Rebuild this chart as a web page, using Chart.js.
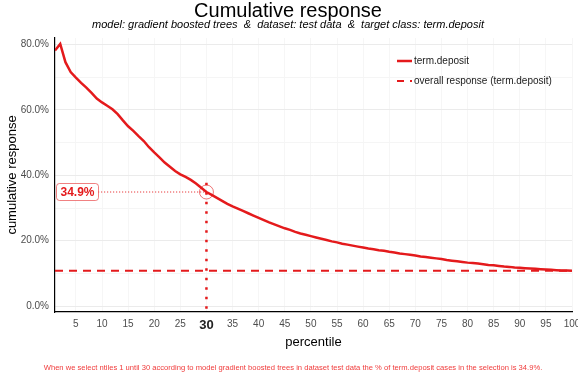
<!DOCTYPE html>
<html>
<head>
<meta charset="utf-8">
<title>Cumulative response</title>
<script src="https://cdn.jsdelivr.net/npm/chart.js@4.4.0/dist/chart.umd.min.js"></script>
<style>
  html, body { margin: 0; padding: 0; background: #fff; }
  #wrap { width: 578px; height: 384px; position: relative; }
</style>
</head>
<body>
<div id="wrap"><canvas id="chart"></canvas></div>
<script>
// percentiles (ntiles) 1..100
const percentiles = Array.from({ length: 100 }, (_, i) => i + 1);

// cumulative response (%), one value per percentile
const cumResponse = [
  78.2, 80.2, 74.6, 71.6, 69.9, 68.3, 66.8, 65.2, 63.5, 62.3,
  61.3, 60.2, 58.7, 56.8, 55.0, 53.6, 52.0, 50.5, 48.6, 47.0,
  45.5, 43.9, 42.6, 41.3, 40.3, 39.5, 38.6, 37.5, 36.2, 34.9,
  34.0, 33.1, 32.2, 31.3, 30.5, 29.8, 29.1, 28.4, 27.7, 27.0,
  26.3, 25.6, 25.0, 24.4, 23.8, 23.3, 22.7, 22.2, 21.8, 21.4,
  21.0, 20.6, 20.2, 19.8, 19.5, 19.1, 18.8, 18.5, 18.2, 17.9,
  17.6, 17.4, 17.1, 16.9, 16.6, 16.4, 16.1, 15.9, 15.7, 15.5,
  15.2, 15.0, 14.8, 14.6, 14.4, 14.1, 13.9, 13.7, 13.5, 13.3,
  13.2, 13.0, 12.8, 12.6, 12.5, 12.3, 12.1, 12.0, 11.8, 11.7,
  11.6, 11.5, 11.4, 11.3, 11.2, 11.1, 11.0, 10.9, 10.9, 10.8
];

const overallResponse = 10.8;
const xTicks = [5, 10, 15, 20, 25, 30, 35, 40, 45, 50, 55, 60, 65, 70, 75, 80, 85, 90, 95, 100];
const yTicks = [0, 10, 20, 30, 40, 50, 60, 70, 80];
const highlightNtile = 30;
const highlightValue = 34.9;

const RED = '#E41A1C';
const FONT = '"Liberation Sans", Arial, sans-serif';

// titles, annotation, legend and caption; marks placed through the chart scales
const extras = {
  id: 'extras',
  afterDatasetsDraw(chart) {
    const { ctx, chartArea, scales: { x, y } } = chart;
    const px = x.getPixelForValue(highlightNtile);
    const py = y.getPixelForValue(highlightValue);
    const boxL = chartArea.left + 1, boxR = boxL + 42;

    ctx.save();
    // horizontal dotted guide
    ctx.strokeStyle = 'rgba(228,26,28,0.85)';
    ctx.lineWidth = 1;
    ctx.setLineDash([1.2, 1.8]);
    ctx.beginPath();
    ctx.moveTo(boxR, py);
    ctx.lineTo(px, py);
    ctx.stroke();

    // vertical dotted guide
    ctx.strokeStyle = RED;
    ctx.lineWidth = 2.5;
    ctx.setLineDash([2.5, 7]);
    ctx.beginPath();
    ctx.moveTo(px, y.getPixelForValue(37.7));
    ctx.lineTo(px, chartArea.bottom);
    ctx.stroke();
    ctx.setLineDash([]);

    // circle round the selected point
    ctx.strokeStyle = 'rgba(228,26,28,0.6)';
    ctx.lineWidth = 1;
    ctx.beginPath();
    ctx.arc(px, py, 7, 0, Math.PI * 2);
    ctx.stroke();

    // value label box
    ctx.fillStyle = '#fff';
    ctx.strokeStyle = 'rgba(228,26,28,0.55)';
    ctx.beginPath();
    ctx.roundRect(boxL + 0.5, py - 8.5, boxR - boxL, 17, 3);
    ctx.fill();
    ctx.stroke();
    ctx.fillStyle = RED;
    ctx.font = 'bold 12px ' + FONT;
    ctx.textAlign = 'center';
    ctx.textBaseline = 'middle';
    ctx.fillText(highlightValue.toFixed(1) + '%', (boxL + boxR) / 2 + 0.5, py + 0.5);

    // legend
    const lx = 397, ly1 = 61, ly2 = 81;
    ctx.strokeStyle = RED;
    ctx.lineWidth = 2.5;
    ctx.beginPath();
    ctx.moveTo(lx, ly1);
    ctx.lineTo(lx + 15, ly1);
    ctx.stroke();
    ctx.lineWidth = 2;
    ctx.setLineDash([7, 6]);
    ctx.beginPath();
    ctx.moveTo(lx, ly2);
    ctx.lineTo(lx + 15, ly2);
    ctx.stroke();
    ctx.setLineDash([]);
    ctx.fillStyle = '#1a1a1a';
    ctx.font = '10px ' + FONT;
    ctx.textAlign = 'left';
    ctx.fillText('term.deposit', lx + 17, ly1 + 0.5);
    ctx.fillText('overall response (term.deposit)', lx + 17, ly2 + 0.5);
    ctx.restore();
  },
  afterDraw(chart) {
    const { ctx } = chart;
    const cx = chart.width / 2 - 1;
    ctx.save();
    ctx.fillStyle = '#000';
    ctx.textAlign = 'center';
    ctx.textBaseline = 'alphabetic';
    ctx.font = '20px ' + FONT;
    ctx.fillText('Cumulative response', cx, 16.5);
    ctx.font = 'italic 11px ' + FONT;
    ctx.fillText('model: gradient boosted trees  &  dataset: test data  &  target class: term.deposit', cx, 27.5);

    ctx.fillStyle = '#F03B3B';
    ctx.font = '7.6px ' + FONT;
    ctx.textBaseline = 'middle';
    ctx.fillText('When we select ntiles 1 until 30 according to model gradient boosted trees in dataset test data the % of term.deposit cases in the selection is 34.9%.', 293, 367.5);
    ctx.restore();
  }
};

document.addEventListener('DOMContentLoaded', () => {
  const ctx = document.getElementById('chart').getContext('2d');
  new Chart(ctx, {
    type: 'line',
    data: {
      datasets: [
        {
          label: 'term.deposit',
          data: percentiles.map((p, i) => ({ x: p, y: cumResponse[i] })),
          borderColor: RED,
          borderWidth: 2.5,
          pointRadius: 0,
          tension: 0
        },
        {
          label: 'overall response (term.deposit)',
          data: [{ x: percentiles[0], y: overallResponse }, { x: percentiles[percentiles.length - 1], y: overallResponse }],
          borderColor: RED,
          borderWidth: 2,
          borderDash: [8, 6],
          pointRadius: 0
        }
      ]
    },
    options: {
      responsive: true,
      maintainAspectRatio: false,
      animation: false,
      layout: { padding: { top: 38, right: 6, bottom: 32, left: 0 } },
      plugins: {
        legend: { display: false },
        tooltip: { enabled: false },
        title: { display: false },
        subtitle: { display: false }
      },
      scales: {
        x: {
          type: 'linear',
          min: 1,
          max: 100,
          afterBuildTicks: s => { s.ticks = xTicks.map(v => ({ value: v })); },
          afterFit: s => { s.height = 40; s.paddingLeft = 0; s.paddingRight = 0; },
          border: { display: true, color: '#000', width: 1.2 },
          grid: { color: '#f6f6f6', drawTicks: false },
          ticks: {
            padding: 6,
            maxRotation: 0,
            autoSkip: false,
            color: c => c.tick && c.tick.value === highlightNtile ? '#222' : '#4d4d4d',
            font: c => c.tick && c.tick.value === highlightNtile
              ? { family: FONT, size: 13, weight: 'bold' }
              : { family: FONT, size: 10 }
          },
          title: {
            display: true,
            text: 'percentile',
            color: '#000',
            font: { family: FONT, size: 13 },
            padding: { top: 0, bottom: 2 }
          }
        },
        y: {
          min: -1.8,
          max: 82,
          afterBuildTicks: s => { s.ticks = yTicks.map(v => ({ value: v })); },
          afterFit: s => { s.width = 55; s.paddingTop = 0; s.paddingBottom = 0; },
          border: { display: true, color: '#000', width: 1.2 },
          grid: {
            drawTicks: false,
            color: c => c.tick && c.tick.value % 20 === 0 ? '#ebebeb' : '#f5f5f5'
          },
          ticks: {
            padding: 6,
            color: '#4d4d4d',
            font: { family: FONT, size: 10 },
            callback: v => v % 20 === 0 ? v.toFixed(1) + '%' : ''
          },
          title: {
            display: true,
            text: 'cumulative response',
            color: '#000',
            font: { family: FONT, size: 13 },
            padding: { top: 5, bottom: 0 }
          }
        }
      }
    },
    plugins: [extras]
  });
});
</script>
</body>
</html>
